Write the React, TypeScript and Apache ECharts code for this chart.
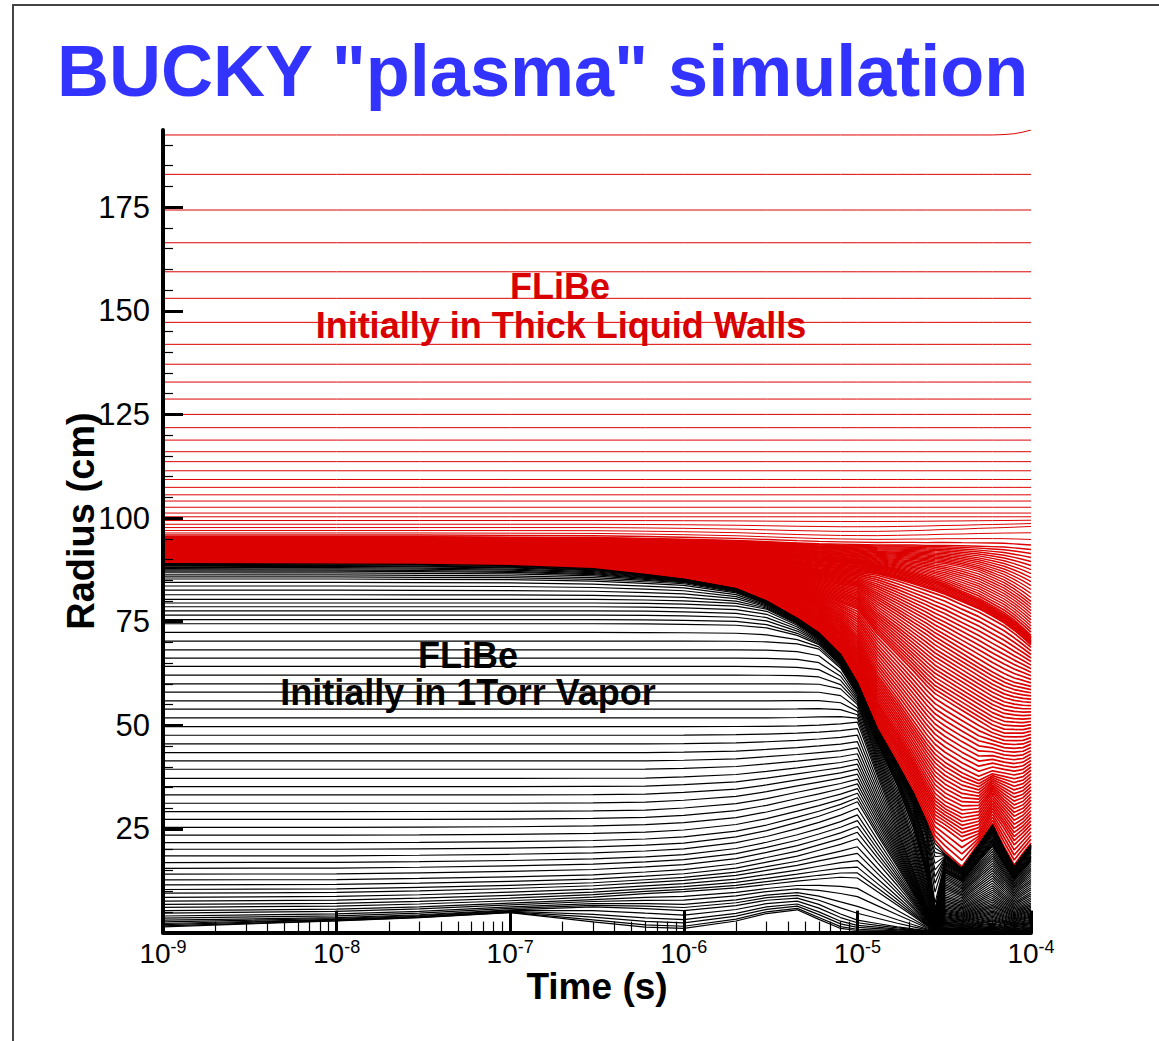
import React, { useEffect, useRef } from 'react';
import * as echarts from 'echarts';

// Time columns (s) at which the zone trajectories are sampled
const TIME_S = [1e-9, 1e-8, 3e-8, 1e-7, 3e-7, 6e-7, 1e-6, 2e-6, 3e-6, 4.5e-6, 6e-6, 8e-6, 1e-5, 1.3e-5, 1.7e-5, 2.1e-5, 2.5e-5, 2.8e-5, 3.2e-5, 4e-5, 5e-5, 6e-5, 7e-5, 8e-5, 9e-5, 1e-4];

// Guide trajectories: FLiBe initially in 1 Torr vapor (black)
const VAPOR_GUIDE_R0 = [1.4, 3, 6, 12, 20, 30, 40, 50, 60, 70, 80, 86, 89];
const vapor_1_4 = [1.4, 2.8, 3.6, 4.8, 2.6, 1.3, 1.0, 2.8, 4.6, 5.5, 3.2, 1.0, 0.5, 0.4, 0.3, 0.3, 0.2, 0.2, 0.3, 0.3, 0.4, 0.4, 0.3, 0.3, 0.3, 0.3];
const vapor_3 = [3.0, 3.6, 4.3, 5.5, 6.2, 5.8, 5.3, 6.5, 7.8, 8.3, 6.8, 4.5, 3.0, 2.2, 1.4, 0.9, 0.5, 0.3, 0.9, 0.8, 1.1, 1.3, 1.0, 0.8, 0.9, 1.0];
const vapor_6 = [6.0, 6.3, 6.8, 7.6, 8.5, 9.3, 9.8, 10.7, 11.5, 12.3, 12.8, 13.2, 13.0, 9.8, 6.5, 3.9, 1.7, 0.6, 1.8, 1.5, 2.1, 2.6, 2.0, 1.6, 1.9, 2.1];
const vapor_12 = [12, 12.1, 12.4, 12.8, 13.3, 14.0, 14.6, 16.0, 17.5, 19.0, 20.5, 22.0, 23.5, 17.6, 11.8, 7.0, 3.0, 0.8, 3.0, 2.6, 3.6, 4.4, 3.4, 2.7, 3.2, 3.6];
const vapor_20 = [20, 20, 20.1, 20.3, 20.6, 21.0, 21.5, 23.0, 24.5, 26.5, 28.0, 29.8, 31.5, 23.6, 15.8, 9.5, 4.1, 1.0, 4.3, 3.7, 5.1, 6.2, 4.9, 3.8, 4.5, 5.1];
const vapor_30 = [30, 30, 30, 30, 30.1, 30.3, 30.8, 31.8, 33.0, 34.5, 35.5, 36.5, 37.5, 28.1, 18.8, 11.3, 4.9, 1.2, 5.8, 5.0, 6.9, 8.4, 6.6, 5.2, 6.1, 6.9];
const vapor_40 = [40, 40, 40, 40, 40, 40, 40.2, 40.6, 41.2, 41.8, 42.3, 42.8, 43.5, 32.6, 21.8, 13.0, 5.7, 1.5, 7.5, 6.4, 8.9, 10.9, 8.5, 6.7, 7.9, 9.0];
const vapor_50 = [50, 50, 50, 50, 50, 50, 50, 50, 50, 50.1, 50.3, 50.6, 51.0, 38.0, 25.5, 15.3, 6.6, 2.0, 9.5, 8.1, 11.3, 13.8, 10.8, 8.5, 10.0, 11.4];
const vapor_60 = [60, 60, 60, 60, 60, 60, 60, 60, 60, 60, 59.9, 58.8, 55.0, 41.5, 29.5, 19.0, 9.0, 2.8, 11.5, 9.8, 13.7, 16.7, 13.1, 10.3, 12.2, 13.8];
const vapor_70 = [70, 70, 70, 70, 70, 70, 70, 70, 69.9, 69.5, 68.3, 63.7, 57.3, 44.5, 33.5, 23.0, 12.0, 3.5, 13.5, 11.5, 16.0, 19.5, 15.3, 12.0, 14.2, 16.1];
const vapor_80 = [80, 80, 80, 80, 80, 79.9, 79.7, 79.2, 77.9, 74.4, 70.9, 65.6, 58.8, 47.0, 37.5, 28.0, 16.0, 4.5, 15.5, 13.2, 18.3, 22.4, 17.5, 13.7, 16.2, 18.4];
const vapor_86 = [86, 86, 85.9, 85.8, 85.4, 84.8, 84.3, 82.3, 79.4, 75.2, 71.7, 66.4, 59.6, 48.5, 39.8, 31.5, 20.5, 5.5, 17.0, 14.5, 20.0, 24.5, 19.2, 15.0, 17.8, 20.2];
const vapor_89 = [89.0, 88.9, 88.8, 88.5, 87.8, 86.4, 85.3, 83.0, 80.0, 75.8, 72.3, 67.1, 60.3, 49.3, 40.8, 33.8, 26.8, 21.5, 19.0, 15.5, 21.2, 26.0, 20.3, 15.9, 18.8, 21.2];
const VAPOR_GUIDES = [vapor_1_4, vapor_3, vapor_6, vapor_12, vapor_20, vapor_30, vapor_40, vapor_50, vapor_60, vapor_70, vapor_80, vapor_86, vapor_89];

// Guide trajectories: FLiBe initially in thick liquid walls (red)
const WALL_GUIDE_R0 = [89.2, 89.5, 90.0, 90.7, 91.5, 92.5, 93.3, 93.8, 94.6, 95.5, 97.5, 100, 150, 190, 192.4];
const wall_89_2 = [89.2, 89.1, 89.0, 88.7, 88.0, 86.6, 85.5, 83.2, 80.2, 76.0, 72.5, 67.3, 60.5, 49.5, 41.0, 34.0, 27.3, 22.3, 19.5, 15.9, 21.6, 26.4, 20.7, 16.3, 19.2, 21.6];
const wall_89_5 = [89.5, 89.4, 89.3, 89.0, 88.3, 87.0, 86.0, 83.8, 81.0, 77.0, 73.7, 68.8, 62.5, 52.0, 44.0, 37.2, 31.0, 27.0, 25.5, 22.5, 24.0, 29.5, 25.5, 21.5, 23.5, 25.5];
const wall_90_0 = [90.0, 89.9, 89.8, 89.5, 88.8, 87.7, 86.8, 84.8, 82.2, 78.6, 75.6, 71.3, 66.0, 56.0, 48.5, 42.0, 36.5, 33.0, 31.0, 29.0, 29.5, 34.0, 31.0, 28.5, 29.5, 31.5];
const wall_90_7 = [90.7, 90.6, 90.5, 90.2, 89.6, 88.7, 88.0, 86.3, 84.0, 81.0, 78.6, 75.1, 71.0, 62.5, 56.0, 50.5, 46.0, 43.5, 41.5, 39.0, 37.0, 38.5, 38.0, 37.5, 38.0, 39.5];
const wall_91_5 = [91.5, 91.4, 91.3, 91.0, 90.5, 89.7, 89.1, 87.7, 85.8, 83.4, 81.5, 79.6, 78.0, 72.0, 67.0, 63.0, 59.5, 57.5, 56.0, 53.5, 51.0, 49.0, 48.0, 48.0, 48.0, 48.5];
const wall_92_5 = [92.5, 92.4, 92.3, 92.1, 91.7, 91.1, 90.6, 89.6, 88.2, 86.5, 85.3, 84.3, 83.5, 80.5, 77.5, 75.0, 73.0, 71.5, 70.0, 67.5, 65.0, 63.0, 61.5, 60.5, 60.0, 59.5];
const wall_93_3 = [93.3, 93.2, 93.1, 92.9, 92.6, 92.1, 91.7, 90.9, 89.8, 88.6, 87.9, 87.4, 87.0, 86.5, 85.2, 84.0, 83.0, 82.3, 81.5, 79.7, 78.0, 76.2, 74.6, 72.8, 71.0, 69.3];
const wall_93_8 = [93.8, 93.7, 93.6, 93.5, 93.2, 92.8, 92.4, 91.7, 91.0, 90.2, 89.7, 89.3, 89.0, 88.2, 87.3, 86.4, 85.5, 84.8, 84.0, 82.2, 80.5, 78.6, 77.0, 75.2, 73.3, 71.5];
const wall_94_6 = [94.6, 94.6, 94.5, 94.4, 94.2, 93.9, 93.6, 93.1, 92.6, 92.0, 91.6, 91.3, 91.0, 90.6, 90.3, 90.0, 89.7, 89.4, 89.1, 88.3, 87.2, 85.8, 84.5, 83.0, 81.5, 80.0];
const wall_95_5 = [95.5, 95.5, 95.5, 95.4, 95.3, 95.1, 94.9, 94.6, 94.3, 94.0, 93.8, 93.7, 93.6, 93.5, 93.5, 93.5, 93.4, 93.4, 93.4, 93.3, 93.2, 93.1, 93.0, 92.8, 92.6, 92.4];
const wall_97_5 = [97.5, 97.5, 97.5, 97.5, 97.5, 97.4, 97.3, 97.1, 96.9, 96.7, 96.6, 96.5, 96.5, 96.5, 96.6, 96.7, 96.8, 96.9, 97.0, 97.1, 97.3, 97.4, 97.5, 97.6, 97.7, 97.8];
const wall_100 = [100, 100, 100, 100, 100, 100, 100, 100, 100, 100, 100, 100, 100, 100, 100, 100, 100, 100, 100, 100, 100, 100, 100, 100, 100, 100];
const wall_150 = [150, 150, 150, 150, 150, 150, 150, 150, 150, 150, 150, 150, 150, 150, 150, 150, 150, 150, 150, 150, 150, 150, 150, 150, 150, 150];
const wall_190 = [190, 190, 190, 190, 190, 190, 190, 190, 190, 190, 190, 190, 190, 190, 190, 190, 190, 190, 190, 190, 190, 190, 190, 190, 190, 190];
const wall_192_4 = [192.4, 192.4, 192.4, 192.4, 192.4, 192.4, 192.4, 192.4, 192.4, 192.4, 192.4, 192.4, 192.4, 192.4, 192.4, 192.4, 192.4, 192.4, 192.4, 192.4, 192.4, 192.4, 192.5, 192.7, 193.1, 193.6];
const WALL_GUIDES = [wall_89_2, wall_89_5, wall_90_0, wall_90_7, wall_91_5, wall_92_5, wall_93_3, wall_93_8, wall_94_6, wall_95_5, wall_97_5, wall_100, wall_150, wall_190, wall_192_4];

// Initial zone radii (cm)
const VAPOR_ZONES_R0 = [89.0, 88.8, 88.6, 88.4, 88.1, 87.8, 87.5, 87.2, 86.8, 86.3, 85.8, 85.3, 84.5, 83.6, 82.6, 81.5, 80.4, 79.5, 78.6, 77.6, 76.6, 75.5, 74.5, 72.4, 70.3, 68.2, 66.2, 64.2, 62.1, 60.0, 58.0, 55.9, 53.9, 51.8, 49.7, 47.6, 45.5, 43.4, 41.4, 39.4, 37.2, 35.2, 33.2, 31.2, 29.2, 27.3, 25.4, 23.5, 21.7, 20.1, 18.5, 16.9, 15.5, 14.1, 12.7, 11.5, 10.4, 9.5, 8.5, 7.6, 6.8, 6.1, 5.3, 4.7, 4.0, 3.5, 3.0, 2.6, 2.2, 1.9, 1.6, 1.4];
const WALL_ZONES_R0 = [
  89.20, 89.27, 89.34, 89.41, 89.48, 89.55, 89.62, 89.69, 89.76, 89.83,
  89.90, 89.97, 90.04, 90.11, 90.18, 90.25, 90.32, 90.39, 90.46, 90.53,
  90.60, 90.67, 90.74, 90.81, 90.88, 90.95, 91.02, 91.09, 91.16, 91.23,
  91.30, 91.37, 91.44, 91.51, 91.58, 91.65, 91.72, 91.79, 91.86, 91.93,
  92.00, 92.07, 92.14, 92.21, 92.28, 92.35, 92.42, 92.49, 92.56, 92.63,
  92.70, 92.77, 92.84, 92.91, 92.98, 93.05, 93.12, 93.19, 93.26, 93.33,
  93.40, 93.47, 93.54, 93.61, 93.68, 93.75, 93.82, 93.89, 93.96, 94.03,
  94.10, 94.17, 94.24, 94.31, 94.38, 94.45, 94.52, 94.59, 94.66, 94.73,
  94.80, 94.87, 94.94, 95.01, 95.08, 95.15, 95.22, 95.29, 95.36, 95.43, 95.50,
  95.9, 96.4, 97.0, 97.7, 98.5, 99.4, 100.3, 101.2, 102.6, 104.1, 105.6, 107.4, 109.3,
  111.4, 113.6, 116.0, 118.8, 121.8, 125.0, 128.7, 132.8, 137.1, 141.9, 147.2, 153.0,
  159.4, 166.4, 174.3, 182.9, 192.4
];

// Axis ticks
const X_DECADES = [1e-9, 1e-8, 1e-7, 1e-6, 1e-5, 1e-4];
const X_MINOR_STEPS = [2, 3, 4, 5, 6, 7, 8, 9];
const Y_MAJOR = [25, 50, 75, 100, 125, 150, 175];
const Y_MINOR = [5, 10, 15, 20, 30, 35, 40, 45, 55, 60, 65, 70, 80, 85, 90, 95, 105, 110, 115, 120, 130, 135, 140, 145, 155, 160, 165, 170, 180, 185, 190];
const Y_MAX = 193.6;

const FONT = '"Liberation Sans", Arial, Helvetica, sans-serif';
const RED = '#dd0000';

function trajectory(r0: number, guideR0: number[], guides: number[][]) {
  let k = 0;
  while (k < guideR0.length - 2 && r0 > guideR0[k + 1]) k++;
  const a = guideR0[k];
  const b = guideR0[k + 1];
  const w = Math.min(1, Math.max(0, (r0 - a) / (b - a)));
  return TIME_S.map((t, j) => [t, guides[k][j] * (1 - w) + guides[k + 1][j] * w]);
}

export default function App() {
  const ref = useRef<HTMLDivElement>(null);
  useEffect(() => {
    if (!ref.current) return;
    const chart = echarts.init(ref.current, null, { renderer: 'svg' });
    const xMinor: number[] = [];
    X_DECADES.slice(0, -1).forEach((d) => X_MINOR_STEPS.forEach((m) => xMinor.push(d * m)));

    const series: any[] = [];
    WALL_ZONES_R0.forEach((r0) => {
      series.push({
        type: 'line', xAxisIndex: 0, yAxisIndex: 0, silent: true, symbol: 'none', z: 2,
        data: trajectory(r0, WALL_GUIDE_R0, WALL_GUIDES),
        lineStyle: { color: RED, width: r0 < 93.9 ? 1.7 : r0 < 96 ? 1.4 : 1 },
      });
    });
    VAPOR_ZONES_R0.forEach((r0) => {
      series.push({
        type: 'line', xAxisIndex: 0, yAxisIndex: 0, silent: true, symbol: 'none', z: 3,
        data: trajectory(r0, VAPOR_GUIDE_R0, VAPOR_GUIDES),
        lineStyle: { color: '#000000', width: 1.2 },
      });
    });

    const option: any = {
      animation: false,
      grid: { left: 163, right: 128, top: 130, bottom: 108.4, containLabel: false },
      xAxis: [
        {
          type: 'log', logBase: 10, min: 1e-9, max: 1e-4, position: 'bottom', z: 10,
          axisLine: { show: true, lineStyle: { color: '#000', width: 4 } },
          axisTick: { show: true, inside: true, length: 22, lineStyle: { color: '#000', width: 3 }, customValues: X_DECADES },
          axisLabel: {
            customValues: X_DECADES, margin: 5,
            formatter: (v: number) => `{b|10}{s|${Math.round(Math.log10(v))}}`,
            rich: {
              b: { fontSize: 28, fontFamily: FONT, color: '#000', lineHeight: 31 },
              s: { fontSize: 18, fontFamily: FONT, color: '#000', lineHeight: 18, verticalAlign: 'top' },
            },
          },
          splitLine: { show: false }, minorTick: { show: false },
        },
        {
          type: 'log', logBase: 10, min: 1e-9, max: 1e-4, position: 'bottom', offset: 0, z: 10,
          axisLine: { show: false },
          axisTick: { show: true, inside: true, length: 11, lineStyle: { color: '#000', width: 1.2 }, customValues: xMinor },
          axisLabel: { show: false }, splitLine: { show: false },
        },
      ],
      yAxis: [
        {
          type: 'value', min: 0, max: Y_MAX, interval: 25, position: 'left', z: 10,
          axisLine: { show: true, lineStyle: { color: '#000', width: 4 } },
          axisTick: { show: true, inside: true, length: 20, lineStyle: { color: '#000', width: 3 }, customValues: Y_MAJOR },
          axisLabel: { customValues: Y_MAJOR, fontSize: 31, fontFamily: FONT, color: '#000', margin: 13 },
          splitLine: { show: false },
        },
        {
          type: 'value', min: 0, max: Y_MAX, position: 'left', offset: 0, z: 10,
          axisLine: { show: false },
          axisTick: { show: true, inside: true, length: 10, lineStyle: { color: '#000', width: 1.2 }, customValues: Y_MINOR },
          axisLabel: { show: false }, splitLine: { show: false },
        },
      ],
      graphic: [
        { type: 'rect', shape: { x: 13, y: 5, width: 1400, height: 1300 }, style: { fill: 'none', stroke: '#444', lineWidth: 2 }, silent: true },
        { type: 'text', x: 57, y: 35, style: { text: 'BUCKY "plasma" simulation', font: `bold 72px ${FONT}`, fill: '#3333ff' } },
        { type: 'text', x: 560, y: 286, style: { text: 'FLiBe', font: `bold 36px ${FONT}`, fill: '#d80000', align: 'center', verticalAlign: 'middle' }, z: 20 },
        { type: 'text', x: 561, y: 325, style: { text: 'Initially in Thick Liquid Walls', font: `bold 36px ${FONT}`, fill: '#d80000', align: 'center', verticalAlign: 'middle' }, z: 20 },
        { type: 'text', x: 468, y: 655, style: { text: 'FLiBe', font: `bold 36px ${FONT}`, fill: '#000', align: 'center', verticalAlign: 'middle' }, z: 20 },
        { type: 'text', x: 468, y: 692, style: { text: 'Initially in 1Torr Vapor', font: `bold 36px ${FONT}`, fill: '#000', align: 'center', verticalAlign: 'middle' }, z: 20 },
        { type: 'text', x: 597, y: 986, style: { text: 'Time (s)', font: `bold 37px ${FONT}`, fill: '#000', align: 'center', verticalAlign: 'middle' } },
        { type: 'text', x: 81, y: 521, rotation: Math.PI / 2, style: { text: 'Radius (cm)', font: `bold 38px ${FONT}`, fill: '#000', align: 'center', verticalAlign: 'middle' } },
      ],
      series,
    };
    chart.setOption(option);
    return () => chart.dispose();
  }, []);
  return (
    <div
      ref={ref}
      style={{ position: 'fixed', left: 0, top: 0, width: 1159, height: 1041, background: '#fff' }}
    />
  );
}
